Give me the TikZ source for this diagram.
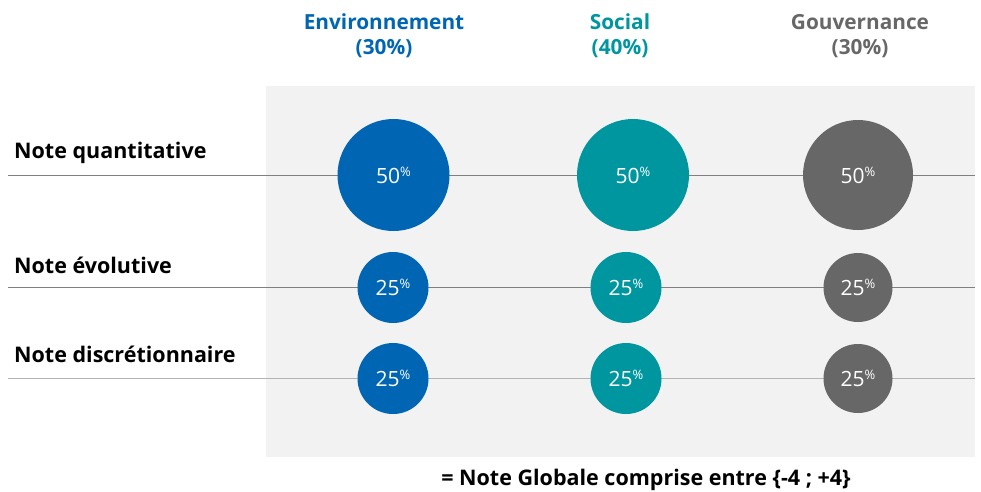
\documentclass[tikz,border=0pt]{standalone}
\usepackage{fontspec}
\setmainfont{Open Sans}
\definecolor{envblue}{HTML}{0066B3}
\definecolor{socteal}{HTML}{0096A0}
\definecolor{gouvgray}{HTML}{676767}
\definecolor{panelgray}{HTML}{F2F2F2}
\definecolor{lineA}{HTML}{808080}
\definecolor{lineB}{HTML}{B4B4B4}
\begin{document}
\begin{tikzpicture}[x=1pt,y=-1pt,
  hdr/.style={font=\bfseries\fontsize{20.8}{24}\selectfont, anchor=base, inner sep=0pt},
  rowlab/.style={font=\bfseries\fontsize{21.5}{24}\selectfont, anchor=base west, inner sep=0pt, text=black},
  bigdot/.style={circle, minimum size=112pt, inner sep=0pt, text=white},
  smalldot/.style={circle, minimum size=70pt, inner sep=0pt, text=white},
  pct/.style={text=white, anchor=base, inner sep=0pt},
  rowline/.style={line width=1pt}]
\useasboundingbox (0,0) rectangle (981,491);
\fill[panelgray] (266,86) rectangle (975,457);
% headers
\node[hdr, text=envblue] (henv) at (384,29) {Environnement};
\node[hdr, text=envblue] (henvp) at (384,54) {(30\%)};
\node[hdr, text=socteal] (hsoc) at (620,29) {Social};
\node[hdr, text=socteal] (hsocp) at (620,54) {(40\%)};
\node[hdr, text=gouvgray] (hgov) at (860,29) {Gouvernance};
\node[hdr, text=gouvgray] (hgovp) at (860,54) {(30\%)};
% row labels
\node[rowlab] (rq) at (14,158) {Note quantitative};
\node[rowlab] (re) at (14,273) {Note évolutive};
\node[rowlab] (rd) at (14,362) {Note discrétionnaire};
% lines
\coordinate (q0) at (8,175); \coordinate (q1) at (975,175);
\coordinate (e0) at (8,287); \coordinate (e1) at (975,287);
\coordinate (d0) at (8,378); \coordinate (d1) at (975,378);
\draw[rowline, lineA] (q0) -- (q1);
\draw[rowline, lineA] (e0) -- (e1);
\draw[rowline, lineB] (d0) -- (d1);
% circles
\newcommand{\pctlab}[1]{\fontsize{21}{24}\selectfont #1\raisebox{0.62ex}{\fontsize{13}{14}\selectfont\%}}
\node[bigdot, fill=envblue] (c1) at (393.5,175) {};
\node[bigdot, fill=socteal] (c2) at (633,175) {};
\node[bigdot, fill=gouvgray, minimum size=110pt] (c3) at (858,175) {};
\node[smalldot, fill=envblue, minimum size=71pt] (c4) at (393,287.5) {};
\node[smalldot, fill=socteal, minimum size=71pt] (c5) at (626,287.5) {};
\node[smalldot, fill=gouvgray, minimum size=69pt] (c6) at (858,287.5) {};
\node[smalldot, fill=envblue, minimum size=71pt] (c7) at (393,378.5) {};
\node[smalldot, fill=socteal, minimum size=71pt] (c8) at (626,378.5) {};
\node[smalldot, fill=gouvgray, minimum size=69pt] (c9) at (858,378.5) {};
\foreach \c/\v in {c1/50,c2/50,c3/50,c4/25,c5/25,c6/25,c7/25,c8/25,c9/25}{
  \node[pct] at ([yshift=-8pt]\c.center) {\pctlab{\v}};
}
% bottom
\node[font=\bfseries\fontsize{21.5}{24}\selectfont, anchor=base, inner sep=0pt] (tot) at (646,485) {= Note Globale comprise entre \{-4 ; +4\}};
\end{tikzpicture}
\end{document}
